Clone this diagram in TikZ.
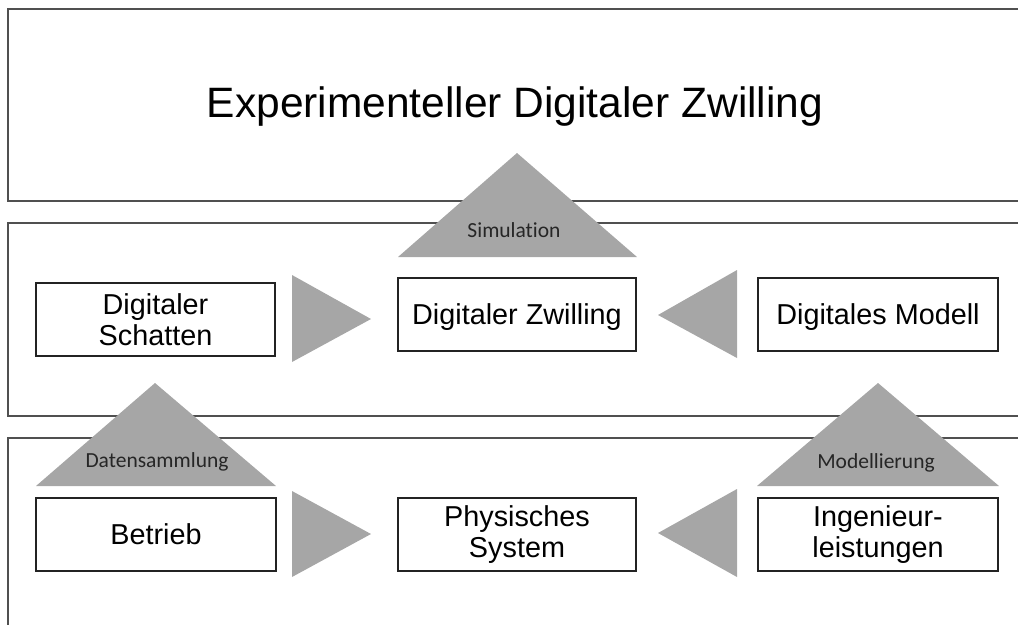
\documentclass[tikz,border=0pt]{standalone}
\usepackage{fontspec}
\setmainfont{Liberation Sans}
\newfontfamily\labelfont[Ligatures=NoCommon]{Carlito}
\definecolor{wedgegray}{RGB}{166,166,166}
\definecolor{bandgray}{RGB}{80,80,80}
\definecolor{boxline}{RGB}{35,35,35}
\begin{document}
\begin{tikzpicture}[x=1pt,y=-1pt,
  band/.style={draw=bandgray, line width=1.5pt},
  box/.style={draw=boxline, line width=1.1pt, fill=white, minimum width=240pt,
    minimum height=73pt, inner sep=0pt, align=center,
    font=\fontsize{28.8}{31}\selectfont},
  oneline/.style={text height=20.6pt, text depth=0pt},
  wedge/.style={fill=wedgegray},
  tlabel/.style={font=\labelfont\fontsize{21.5}{24}\selectfont, text=black!85, anchor=base, inner sep=0pt}]
\useasboundingbox (0,0) rectangle (1018,625);

% three horizontal bands, open to the right
\draw[band] (1018,9) -- (8,9) -- (8,201) -- (1018,201);
\draw[band] (1018,223) -- (8,223) -- (8,416) -- (1018,416);
\draw[band] (1018,438) -- (8,438) -- (8,625);

% title
\node[anchor=base, font=\fontsize{42.5}{46}\selectfont, inner sep=0pt] (title) at (515,117) {Experimenteller Digitaler Zwilling};

% upward wedges
\fill[wedge] (398,257) -- (517,153) -- (637,257) -- cycle;
\fill[wedge] (36,486) -- (155,383) -- (276,486) -- cycle;
\fill[wedge] (757,486) -- (878,383) -- (999,486) -- cycle;

% sideways wedges
\fill[wedge] (292,275) -- (292,362) -- (371,319) -- cycle;
\fill[wedge] (292,491) -- (292,577) -- (371,534) -- cycle;
\fill[wedge] (737,270) -- (737,358) -- (658,315) -- cycle;
\fill[wedge] (737,489) -- (737,577) -- (658,533) -- cycle;

% wedge labels
\node[tlabel] (sim) at (514,237) {Simulation};
\node[tlabel] (daten) at (157,467) {Datensammlung};
\node[tlabel] (model) at (876,468) {Modellierung};

% boxes
\node[box, minimum width=239pt] (schatten) at (155.5,319.5) {Digitaler\\Schatten};
\node[box, oneline, minimum width=238pt] (zwilling) at (517,314.5) {Digitaler Zwilling};
\node[box, oneline] (modell) at (878,314.5) {Digitales Modell};
\node[box, oneline] (betrieb) at (156,534.5) {Betrieb};
\node[box, minimum width=238pt] (physisch) at (517,534.5) {Physisches\\System};
\node[box] (ingenieur) at (878,534.5) {Ingenieur-\\leistungen};
\end{tikzpicture}
\end{document}
